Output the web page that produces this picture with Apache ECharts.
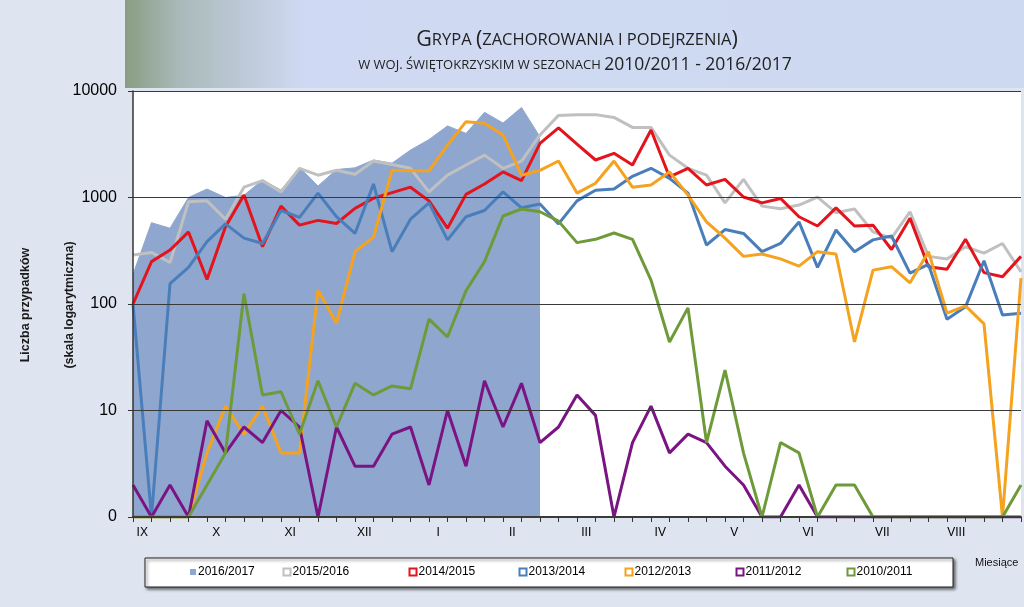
<!DOCTYPE html>
<html><head><meta charset="utf-8">
<script src="https://cdn.jsdelivr.net/npm/echarts@6/dist/echarts.min.js"></script>
<style>html,body{margin:0;padding:0;background:#dfe5f0}#c{width:1024px;height:607px}</style>
</head><body><div id="c"></div>
<script>
// Month labels (tick labels), one per 4 weekly intervals
const months = ['IX','X','XI','XII','I','II','III','IV','V','VI','VII','VIII'];
const yTicks = [1, 10, 100, 1000, 10000];
const seasonNames = ['2016/2017','2015/2016','2014/2015','2013/2014','2012/2013','2011/2012','2010/2011'];

// weekly counts (0 = plotted at the "0" baseline)
const s2016 = [190,580,515,1000,1200,1000,1050,1460,1175,1920,1280,1830,1900,2250,2100,2790,3500,4700,4000,6300,5000,7000,3700];
const s2015 = [288,305,245,910,930,625,1250,1440,1130,1880,1620,1800,1650,2200,2040,1880,1130,1620,2020,2500,1880,2200,3870,5900,6000,6000,5650,4550,4550,2500,1880,1620,890,1480,830,785,850,1010,720,780,475,415,735,280,265,345,300,370,200];
const s2014 = [100,250,321,475,170,530,1055,345,830,550,610,570,790,985,1110,1250,930,515,1070,1340,1740,1440,3220,4500,3170,2250,2600,2020,4300,1560,1880,1310,1480,1010,890,980,660,540,800,540,550,325,640,224,212,405,197,180,280];
const s2013 = [100,0,155,221,385,565,415,370,755,650,1100,660,460,1340,310,625,890,400,660,755,1130,800,870,565,930,1170,1200,1580,1880,1510,1100,358,500,460,310,370,590,221,495,310,400,435,195,235,72,94,255,79,82];
const s2012 = [0,0,0,0,4,11,6,11,4,4,135,66,310,425,1800,1780,1780,3100,5150,4980,3870,1620,1800,2200,1100,1360,2200,1250,1310,1740,1055,590,415,280,295,265,227,310,295,44,208,224,158,310,82,96,65,0,175];
const s2011 = [2,0,2,0,8,4,7,5,10,7,0,7,3,3,6,7,2,10,3,19,7,18,5,7,14,9,0,5,11,4,6,5,3,2,0,0,2,0,0,0,0,0,0,0,0,0,0,0,0];
const s2010 = [0,0,0,0,2,4,125,14,15,6,19,7,18,14,17,16,72,49,133,250,670,780,735,600,377,405,464,405,168,44,92,5,24,4,0,5,4,0,2,2,0,0,0,0,0,0,0,0,2];

const colors = ['#8fa7cf','#c0c0c0','#e3141b','#4a7ebb','#f5a21f','#7a1483','#6e9a3a'];
const allData = [s2016,s2015,s2014,s2013,s2012,s2011,s2010];

const nWeeks = s2015.length;
const weekCats = Array.from({length:nWeeks},(_,i)=>String(i));
const labelCats = Array.from({length:nWeeks-1},(_,i)=> i%4===0 ? months[i/4] : '');
const toPlot = v => (v<=0 ? 1 : v);

const series = allData.map((d,k)=>{
  const s = {
    name: seasonNames[k], type:'line', xAxisIndex:0, yAxisIndex:0,
    data: d.map(toPlot), showSymbol:false, symbol:'none', animation:false,
    lineStyle:{color:colors[k], width:3}, itemStyle:{color:colors[k]}, z: 2+k
  };
  if(k===0){
    s.areaStyle = {color:colors[0], opacity:1};
    s.lineStyle = {color:colors[0], width:1};
  }
  return s;
});

const legendX = [190,282.5,408.5,518.5,624.5,735.5,846.5];
const legends = seasonNames.map((n,k)=>({
  left: legendX[k], top: 566, padding:0, itemWidth: k===0?6:7, itemHeight: k===0?6:7, itemGap: 3,
  z: 10, selectedMode:false,
  textStyle:{fontFamily:'Liberation Sans', fontSize:12, color:'#000', padding:[0,0,0,-3]},
  data:[{name:n, icon:'rect', itemStyle: k===0 ? {color:colors[0], borderWidth:0} : {color:'#fff', borderColor:colors[k], borderWidth:2}}]
}));

const chart = echarts.init(document.getElementById('c'), null, {renderer:'canvas'});
chart.setOption({
  animation:false,
  backgroundColor:'#dfe5f0',
  grid:{left:133, right:3, top:91, bottom:90, show:true, backgroundColor:'#fff', borderWidth:0},
  legend: legends,
  xAxis:[
    {type:'category', data:weekCats, boundaryGap:false, position:'bottom', z:20,
     axisLine:{lineStyle:{color:'#3a3d36', width:2}},
     axisTick:{show:true, interval:0, length:5, lineStyle:{color:'#333'}},
     axisLabel:{show:false}, splitLine:{show:false}},
    {type:'category', data:labelCats, boundaryGap:true, position:'bottom',
     axisLine:{show:false}, axisTick:{show:false},
     axisLabel:{interval:0, margin:10, fontFamily:'Liberation Sans', fontSize:12, color:'#000'}}
  ],
  yAxis:{type:'log', logBase:10, min:yTicks[0], max:yTicks[yTicks.length-1], z:20,
    axisLine:{show:true, lineStyle:{color:'#333', width:1.5}},
    axisTick:{show:true, length:5, lineStyle:{color:'#333'}},
    minorTick:{show:false},
    axisLabel:{margin:16, fontFamily:'Liberation Sans', fontSize:16, color:'#000',
      formatter: v => (v===1 ? '0' : String(v))},
    splitLine:{show:true, lineStyle:{color:'#3a3a3a', width:1}}
  },
  graphic:[
    {type:'rect', z:-10, silent:true, shape:{x:125, y:0, width:899, height:88},
     style:{fill:new echarts.graphic.LinearGradient(0,0,1,0,[
       {offset:0, color:'#8a9d83'},{offset:0.06, color:'#a9b9b9'},{offset:0.2, color:'#d0d9f3'},{offset:1, color:'#cdd9f1'}])}},
    {type:'text', z:5, silent:true, x:577, y:40, style:{
      text:'{b|G}{s|RYPA }{b|(}{s|ZACHOROWANIA I PODEJRZENIA}{b|)}',
      align:'center', verticalAlign:'middle', fill:'#222',
      rich:{b:{fontFamily:'Open Sans', fontSize:21.5, fill:'#222'}, s:{fontFamily:'Open Sans', fontSize:16.5, fill:'#222'}}}},
    {type:'text', z:5, silent:true, x:575, y:65, style:{
      text:'{s|W WOJ. ŚWIĘTOKRZYSKIM W SEZONACH }{b|2010/2011 - 2016/2017}',
      align:'center', verticalAlign:'middle', fill:'#222',
      rich:{b:{fontFamily:'Open Sans', fontSize:17.5, fill:'#222'}, s:{fontFamily:'Open Sans', fontSize:13, fill:'#222'}}}},
    {type:'text', z:5, silent:true, x:26, y:305, rotation:Math.PI/2, style:{
      text:'Liczba przypadków', align:'center', verticalAlign:'middle',
      fontFamily:'Liberation Sans', fontWeight:'bold', fontSize:12.5, fill:'#1a1a1a'}},
    {type:'text', z:5, silent:true, x:70, y:305, rotation:Math.PI/2, style:{
      text:'(skala logarytmiczna)', align:'center', verticalAlign:'middle',
      fontFamily:'Liberation Sans', fontWeight:'bold', fontSize:12.5, fill:'#1a1a1a'}},
    {type:'rect', z:1, silent:true, shape:{x:145, y:558, width:808, height:29},
     style:{fill:'#fff', stroke:'#222', lineWidth:1, shadowBlur:3, shadowOffsetX:2, shadowOffsetY:2, shadowColor:'rgba(0,0,0,0.55)'}},
    {type:'text', z:5, silent:true, x:975, y:563, style:{
      text:'Miesiące', align:'left', verticalAlign:'middle',
      fontFamily:'Liberation Sans', fontSize:11, fill:'#111'}}
  ],
  series: series
});
</script>
</body></html>
